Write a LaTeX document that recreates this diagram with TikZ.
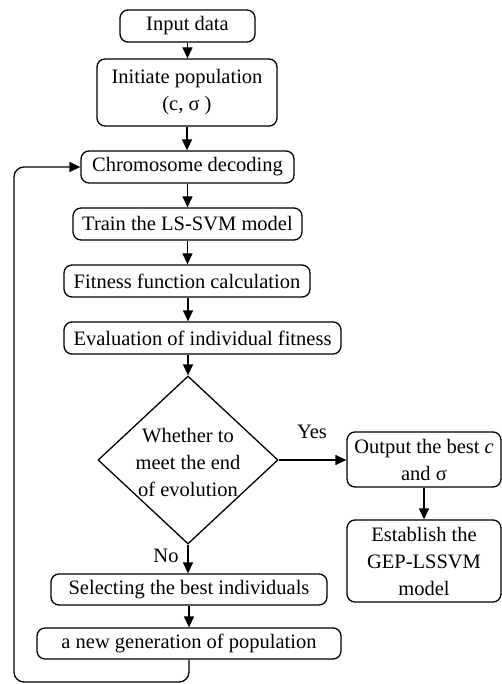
\documentclass[tikz,border=0pt]{standalone}
\usepackage{fontspec}
\setmainfont{Liberation Serif}
\usetikzlibrary{shapes.geometric,arrows.meta}
\begin{document}
\begin{tikzpicture}[x=1pt,y=-1pt,
  txt/.style={font=\fontsize{20.5}{27}\selectfont},
  box/.style={draw, rounded corners=8pt, line width=1.3pt, inner sep=0pt, align=center, txt},
  arr/.style={line width=1.3pt, -{Triangle[length=11pt,width=10pt]}},
  lbl/.style={txt, inner sep=0pt, align=center}]
\useasboundingbox (0,0) rectangle (502,684);
\node[box, minimum width=135pt, minimum height=32pt] (input) at (187.5,26) {Input data};
\node[box, minimum width=180pt, minimum height=67pt] (init) at (187,92.5) {Initiate population\\(c, σ )};
\node[box, minimum width=213pt, minimum height=32pt] (chrom) at (187.5,167) {Chromosome decoding};
\node[box, minimum width=229pt, minimum height=32pt] (train) at (187.5,224) {Train the LS-SVM model};
\node[box, minimum width=246pt, minimum height=32pt] (fit) at (187,281) {Fitness function calculation};
\node[box, minimum width=277pt, minimum height=32pt] (eval) at (202.5,338) {Evaluation of individual fitness};
\node[diamond, draw, line width=1.3pt, minimum width=180pt, minimum height=168pt, inner sep=0pt] (dec) at (188,460) {};
\node[lbl] (dect) at (188,462) {Whether to\\meet the end\\of evolution};
\node[lbl] (yes) at (312,432) {Yes};
\node[lbl] (no) at (166,556) {No};
\node[box, minimum width=154pt, minimum height=55pt] (out) at (424,459.5) {Output the best \textit{c}\\and σ};
\node[box, minimum width=154pt, minimum height=82pt] (est) at (424,561) {Establish the\\GEP-LSSVM\\model};
\node[box, minimum width=276pt, minimum height=31pt] (sel) at (189,589.5) {Selecting the best individuals};
\node[box, minimum width=304pt, minimum height=31pt] (new) at (189,643.5) {a new generation of population};
\coordinate (lb) at (14,682);
\draw[arr] (input.south) -- (input.south |- init.north);
\draw[arr] (init.south) -- (init.south |- chrom.north);
\draw[arr] (chrom.south) -- (chrom.south |- train.north);
\draw[arr] (train.south) -- (train.south |- fit.north);
\draw[arr] (dec.north |- fit.south) -- (dec.north |- eval.north);
\draw[arr] (dec.north |- eval.south) -- (dec.north);
\draw[arr] (dec.east) -- (dec.east -| out.west);
\draw[arr] (out.south) -- (out.south |- est.north);
\draw[arr] (dec.south) -- (dec.south |- sel.north);
\draw[arr] (sel.south) -- (sel.south |- new.north);
\draw[arr, rounded corners=10pt] (new.south) |- (lb) |- (chrom.west);
\end{tikzpicture}
\end{document}
